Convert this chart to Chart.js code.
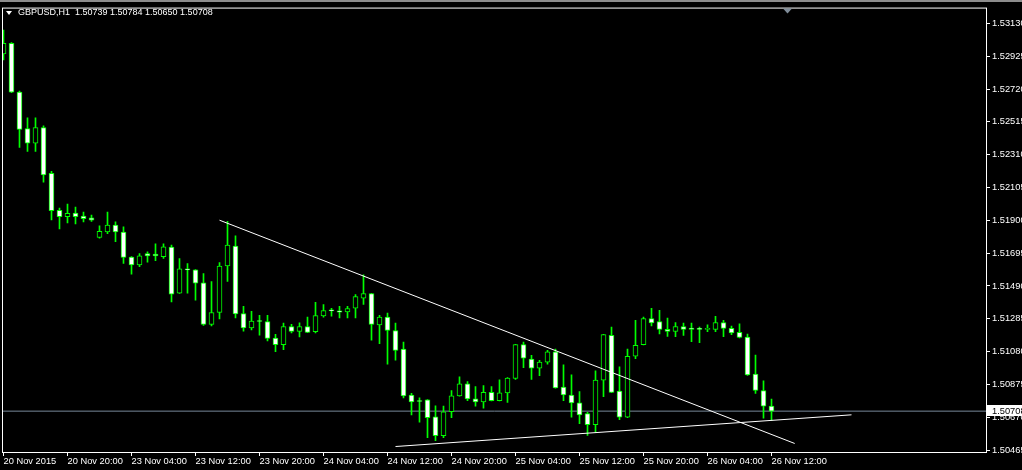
<!DOCTYPE html>
<html>
<head>
<meta charset="utf-8">
<script src="https://cdn.jsdelivr.net/npm/chart.js@4.4.1/dist/chart.umd.min.js"></script>
<style>
html,body{margin:0;padding:0;background:#000;overflow:hidden;}
#wrap{position:relative;width:1022px;height:470px;background:#000;}
#c{position:absolute;left:0;top:0;}
#topband{position:absolute;left:0;top:0;width:1022px;height:2px;background:#8c8c8c;}
#tri{position:absolute;left:6px;top:11px;width:0;height:0;border-left:3px solid transparent;border-right:3px solid transparent;border-top:4px solid #fff;}
#htxt{position:absolute;left:18px;top:7px;font:9px "Liberation Sans",Arial,sans-serif;line-height:11px;color:#fff;white-space:pre;}
</style>
</head>
<body>
<div id="wrap">
<canvas id="c" width="1022" height="470"></canvas>
<div id="topband"></div>
<div id="tri"></div>
<div id="htxt"></div>
</div>
<script>
// ---- data (GBPUSD, H1) ----
const symbol = 'GBPUSD,H1';
const opens = [1.52940,1.53006,1.52702,1.52473,1.52382,1.52479,1.52194,1.51963,1.51923,1.51946,
1.51927,1.51915,1.51793,1.51828,1.51870,1.51826,1.51671,1.51622,1.51692,1.51690,
1.51673,1.51733,1.51445,1.51594,1.51591,1.51510,1.51250,1.51324,1.51615,1.51739,
1.51318,1.51228,1.51270,1.51268,1.51165,1.51123,1.51237,1.51206,1.51237,1.51204,
1.51303,1.51336,1.51334,1.51328,1.51352,1.51414,1.51442,1.51247,1.51295,1.51212,
1.51095,1.50809,1.50770,1.50778,1.50673,1.50555,1.50704,1.50803,1.50878,1.50785,
1.50766,1.50825,1.50774,1.50822,1.50912,1.51124,1.51033,1.50977,1.51014,1.51078,
1.50859,1.50809,1.50760,1.50692,1.50623,1.50902,1.51181,1.50834,1.50670,1.51051,
1.51124,1.51287,1.51268,1.51219,1.51206,1.51237,1.51227,1.51220,1.51219,1.51219,
1.51262,1.51225,1.51200,1.51171,1.50940,1.50836,1.50739];
const highs = [1.53088,1.53010,1.52707,1.52541,1.52541,1.52490,1.52206,1.51977,1.52002,1.51983,
1.51952,1.51933,1.51865,1.51952,1.51890,1.51859,1.51673,1.51692,1.51704,1.51754,
1.51754,1.51746,1.51661,1.51630,1.51593,1.51568,1.51518,1.51636,1.51894,1.51803,
1.51363,1.51332,1.51307,1.51307,1.51188,1.51258,1.51250,1.51259,1.51295,1.51388,
1.51374,1.51351,1.51363,1.51363,1.51436,1.51560,1.51444,1.51307,1.51320,1.51258,
1.51140,1.50819,1.50791,1.50780,1.50741,1.50739,1.50836,1.50923,1.50892,1.50861,
1.50867,1.50861,1.50904,1.50917,1.51126,1.51140,1.51057,1.51026,1.51088,1.51095,
1.50997,1.50935,1.50830,1.50701,1.50960,1.51188,1.51233,1.50985,1.51096,1.51276,
1.51295,1.51351,1.51338,1.51289,1.51262,1.51258,1.51258,1.51233,1.51247,1.51301,
1.51276,1.51240,1.51253,1.51189,1.51059,1.50898,1.50784];
const lows = [1.52902,1.52698,1.52355,1.52330,1.52330,1.52138,1.51902,1.51847,1.51884,1.51878,
1.51890,1.51893,1.51788,1.51817,1.51766,1.51631,1.51563,1.51611,1.51638,1.51648,
1.51662,1.51390,1.51443,1.51445,1.51402,1.51243,1.51241,1.51284,1.51518,1.51290,
1.51208,1.51216,1.51183,1.51146,1.51080,1.51092,1.51197,1.51171,1.51199,1.51196,
1.51295,1.51301,1.51290,1.51290,1.51290,1.51374,1.51152,1.51129,1.51002,1.51026,
1.50791,1.50685,1.50639,1.50543,1.50524,1.50543,1.50667,1.50801,1.50774,1.50739,
1.50726,1.50772,1.50772,1.50763,1.50906,1.50980,1.50906,1.50929,1.51002,1.50851,
1.50774,1.50670,1.50630,1.50557,1.50576,1.50799,1.50823,1.50654,1.50668,1.51036,
1.51122,1.51241,1.51191,1.51175,1.51173,1.51181,1.51142,1.51135,1.51204,1.51204,
1.51173,1.51185,1.51166,1.50931,1.50819,1.50664,1.50650];
const closes = [1.53006,1.52700,1.52468,1.52382,1.52479,1.52183,1.51960,1.51923,1.51944,1.51923,
1.51910,1.51901,1.51832,1.51870,1.51828,1.51669,1.51622,1.51679,1.51677,1.51677,
1.51735,1.51439,1.51597,1.51591,1.51507,1.51250,1.51324,1.51615,1.51746,1.51315,
1.51228,1.51270,1.51268,1.51163,1.51123,1.51237,1.51206,1.51237,1.51200,1.51305,
1.51336,1.51334,1.51326,1.51349,1.51423,1.51442,1.51250,1.51295,1.51212,1.51088,
1.50803,1.50766,1.50768,1.50667,1.50555,1.50704,1.50803,1.50878,1.50785,1.50766,
1.50825,1.50774,1.50822,1.50915,1.51124,1.51039,1.50977,1.51014,1.51078,1.50853,
1.50809,1.50760,1.50685,1.50623,1.50902,1.51186,1.50825,1.50670,1.51051,1.51119,
1.51287,1.51259,1.51219,1.51206,1.51237,1.51219,1.51219,1.51219,1.51220,1.51262,
1.51225,1.51197,1.51168,1.50935,1.50838,1.50739,1.50708];
const xTickBars = [0, 8, 16, 24, 32, 40, 48, 56, 64, 72, 80, 88, 96];
const xTickLabels = ['20 Nov 2015','20 Nov 20:00','23 Nov 04:00','23 Nov 12:00','23 Nov 20:00',
  '24 Nov 04:00','24 Nov 12:00','24 Nov 20:00','25 Nov 04:00','25 Nov 12:00','25 Nov 20:00',
  '26 Nov 04:00','26 Nov 12:00'];
const yTicks = [1.50465,1.50670,1.50875,1.51080,1.51285,1.51490,1.51695,1.51900,
  1.52105,1.52310,1.52515,1.52720,1.52925,1.53130];
const currentPrice = 1.50708;
// trendlines: [bar index, price]
const downTrend = [[27.0, 1.51901], [98.9, 1.50506]];
const upTrend = [[49.0, 1.50487], [106.0, 1.50685]];

// ---- axis ranges ----
const xMin = -0.1875, xMax = 122.9375;
const yMin = 1.504465, yMax = 1.532292;

// header
const last = opens.length - 1;
document.getElementById('htxt').textContent =
  symbol + '  ' + [opens[last], highs[last], lows[last], closes[last]].map(v => v.toFixed(5)).join(' ');

const idx = opens.map((_, i) => i);
const wickData = idx.map(i => ({x: i, y: [lows[i], highs[i]]}));
const bodyData = idx.map(i => ({x: i, y: [Math.min(opens[i], closes[i]), Math.max(opens[i], closes[i])]}));
const bodyFill = idx.map(i => closes[i] < opens[i] ? '#ffffff' : '#000000');

const FONT = {family: '"Liberation Sans", Arial, sans-serif', size: 9.3};

const mtPlugin = {
  id: 'mt',
  afterDraw(chart) {
    const {ctx, chartArea: a, scales: {y}} = chart;
    ctx.save();
    ctx.strokeStyle = '#ffffff';
    ctx.lineWidth = 1;
    ctx.strokeRect(a.left + 0.5, a.top + 0.5, a.right - a.left - 1, a.bottom - a.top - 1);
    const py = Math.round(y.getPixelForValue(currentPrice));
    ctx.fillStyle = '#ffffff';
    ctx.fillRect(a.right, py - 6, chart.width - a.right, 11);
    ctx.fillStyle = '#000000';
    ctx.font = FONT.size + 'px ' + FONT.family;
    ctx.textBaseline = 'middle';
    ctx.textAlign = 'left';
    ctx.fillText(currentPrice.toFixed(5), y.left + 5, py);
    // chart shift marker
    ctx.fillStyle = '#7f8c99';
    ctx.beginPath();
    ctx.moveTo(783, a.top + 1); ctx.lineTo(792, a.top + 1); ctx.lineTo(787.5, a.top + 6);
    ctx.closePath(); ctx.fill();
    ctx.restore();
  }
};

new Chart(document.getElementById('c'), {
  type: 'bar',
  data: {
    datasets: [
      {type: 'line', data: [{x: xMin, y: currentPrice}, {x: xMax, y: currentPrice}],
       borderColor: '#778899', borderWidth: 1, pointRadius: 0, order: 5},
      {type: 'bar', data: wickData, backgroundColor: '#00ff00', borderWidth: 0,
       barThickness: 1, grouped: false, minBarLength: 1, order: 4},
      {type: 'bar', data: bodyData, backgroundColor: bodyFill, borderColor: '#00ff00', borderWidth: 1,
       borderSkipped: false, barThickness: 5, grouped: false, minBarLength: 1, order: 3},
      {type: 'line', data: downTrend.map(p => ({x: p[0], y: p[1]})), borderColor: '#ffffff',
       borderWidth: 1, pointRadius: 0, order: 1},
      {type: 'line', data: upTrend.map(p => ({x: p[0], y: p[1]})), borderColor: '#ffffff',
       borderWidth: 1, pointRadius: 0, order: 1}
    ]
  },
  options: {
    responsive: false,
    animation: false,
    devicePixelRatio: 1,
    layout: {padding: {left: 2, top: 4, right: 0, bottom: 0}},
    plugins: {legend: {display: false}, tooltip: {enabled: false}},
    scales: {
      x: {
        type: 'linear', min: xMin, max: xMax, offset: false,
        afterFit: s => { s.height = 17; },
        afterBuildTicks: s => { s.ticks = xTickBars.map(v => ({value: v})); },
        grid: {drawOnChartArea: false, drawTicks: true, tickLength: 3, color: '#ffffff', offset: false},
        border: {display: false},
        ticks: {
          color: '#ffffff', font: FONT, padding: 0, align: 'start', maxRotation: 0, autoSkip: false,
          callback: v => { const k = xTickBars.indexOf(v); return k >= 0 ? xTickLabels[k] : ''; }
        }
      },
      y: {
        type: 'linear', position: 'right', min: yMin, max: yMax,
        afterFit: s => { s.width = 35; },
        afterBuildTicks: s => { s.ticks = yTicks.map(v => ({value: v})); },
        grid: {drawOnChartArea: false, drawTicks: true, tickLength: 3, color: '#ffffff'},
        border: {display: false},
        ticks: {color: '#ffffff', font: FONT, padding: 2, autoSkip: false,
          callback: v => Number(v).toFixed(5)}
      }
    }
  },
  plugins: [mtPlugin]
});
</script>
</body>
</html>
